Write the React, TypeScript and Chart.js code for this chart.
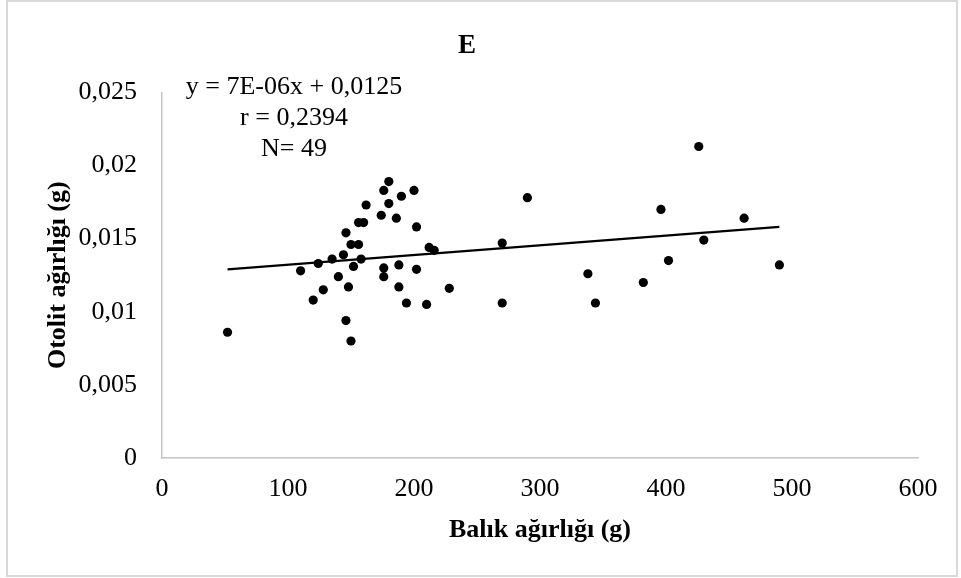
import React, { useEffect, useRef } from "react";
import { Chart, registerables } from "chart.js";

Chart.register(...registerables);

const fishWeight = [
  180, 176, 200, 190, 162, 180, 174, 186, 156, 160,
  202, 146, 150, 156, 212, 216, 144, 135, 158, 152,
  176, 188, 202, 140, 176, 148, 188, 228, 194, 210,
  146, 150, 52, 110, 124, 128, 120, 426, 290, 396,
  462, 270, 430, 402, 490, 338, 382, 270, 344,
];
const otolithWeight = [
  0.0189, 0.0183, 0.0183, 0.0179, 0.0173, 0.0174, 0.0166, 0.0164, 0.0161, 0.0161,
  0.0158, 0.0154, 0.0146, 0.0146, 0.0144, 0.0142, 0.0139, 0.0136, 0.0136, 0.0131,
  0.013, 0.0132, 0.0129, 0.0124, 0.0124, 0.0117, 0.0117, 0.0116, 0.0106, 0.0105,
  0.0094, 0.008, 0.0086, 0.0128, 0.0133, 0.0115, 0.0108, 0.0213, 0.0178, 0.017,
  0.0164, 0.0147, 0.0149, 0.0135, 0.0132, 0.0126, 0.012, 0.0106, 0.0106,
];
const trendX = [52, 490];
const trendY = [0.0129, 0.0158];
const yTickLabels = ["0", "0,005", "0,01", "0,015", "0,02", "0,025"];
const equationLines = ["y = 7E-06x + 0,0125", "r = 0,2394", "N= 49"];
const chartTitle = "E";
const xTitle = "Balık ağırlığı (g)";
const yTitle = "Otolit ağırlığı (g)";

const FONT = "'Liberation Serif', 'Times New Roman', serif";

const equationPlugin = {
  id: "equationText",
  afterDraw(chart: any) {
    const { ctx, chartArea } = chart;
    ctx.save();
    ctx.font = `26px ${FONT}`;
    ctx.fillStyle = "#000";
    ctx.textAlign = "center";
    ctx.textBaseline = "alphabetic";
    const cx = chartArea.left + 132;
    equationLines.forEach((line, i) => {
      ctx.fillText(line, cx, 94 + i * 31);
    });
    ctx.restore();
  },
};

export default function App() {
  const canvasRef = useRef<HTMLCanvasElement>(null);

  useEffect(() => {
    if (!canvasRef.current) return;
    const points = fishWeight.map((x, i) => ({ x, y: otolithWeight[i] }));
    const trend = trendX.map((x, i) => ({ x, y: trendY[i] }));
    const chart = new Chart(canvasRef.current, {
      type: "scatter",
      data: {
        datasets: [
          {
            data: points,
            backgroundColor: "#000",
            borderWidth: 0,
            pointRadius: 4.6,
            pointHoverRadius: 4.6,
          },
          {
            type: "line",
            data: trend,
            borderColor: "#000",
            borderWidth: 2.2,
            pointRadius: 0,
            fill: false,
          } as any,
        ],
      },
      options: {
        animation: false,
        responsive: false,
        maintainAspectRatio: false,
        layout: { padding: { left: 16, right: 43, top: 0, bottom: 0 } },
        plugins: {
          legend: { display: false },
          tooltip: { enabled: false },
          title: {
            display: true,
            text: chartTitle,
            color: "#000",
            font: { family: FONT, size: 27, weight: "bold" },
            padding: { top: 30, bottom: 30 },
          },
        },
        scales: {
          x: {
            type: "linear",
            min: 0,
            max: 600,
            ticks: {
              stepSize: 100,
              color: "#000",
              padding: 16,
              font: { family: FONT, size: 26 },
            },
            grid: { display: false, drawTicks: false },
            border: { display: true, color: "#c4c4c4", width: 1.5 },
            title: {
              display: true,
              text: xTitle,
              color: "#000",
              font: { family: FONT, size: 26, weight: "bold" },
              padding: { top: 0, bottom: 32 },
            },
            afterFit: (s: any) => {
              s.height = 120;
            },
          },
          y: {
            type: "linear",
            min: 0,
            max: 0.025,
            ticks: {
              stepSize: 0.005,
              color: "#000",
              padding: 25,
              font: { family: FONT, size: 26 },
              callback: (_v: any, i: number) => yTickLabels[i],
            },
            grid: { display: false, drawTicks: false },
            border: { display: true, color: "#c4c4c4", width: 1.5 },
            title: {
              display: true,
              text: yTitle,
              color: "#000",
              font: { family: FONT, size: 26, weight: "bold" },
              padding: { top: 27, bottom: 0 },
            },
            afterFit: (s: any) => {
              s.width = 146;
            },
          },
        },
      },
      plugins: [equationPlugin],
    });
    return () => chart.destroy();
  }, []);

  return (
    <div style={{ position: "fixed", left: 0, top: 0, width: 961, height: 578, background: "#fff" }}>
      <canvas ref={canvasRef} width={961} height={578} style={{ position: "absolute", left: 0, top: 0 }} />
      <div
        style={{
          position: "absolute",
          left: 6,
          top: 0,
          width: 952,
          height: 577,
          border: "2px solid #d9d9d9",
          boxSizing: "border-box",
          pointerEvents: "none",
        }}
      />
    </div>
  );
}
